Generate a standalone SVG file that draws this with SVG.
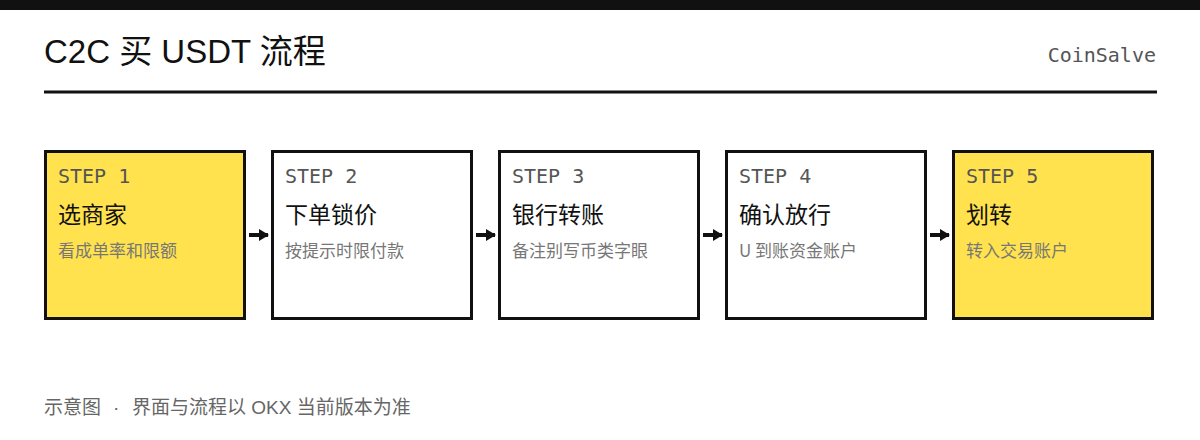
<svg xmlns="http://www.w3.org/2000/svg" width="1200" height="440" viewBox="0 0 1200 440">
<style>
.box{stroke:#111;stroke-width:3}
.y{fill:#FFE24D}
.w{fill:#fff}
.step{font-family:"DejaVu Sans Mono","Liberation Mono",monospace;font-size:20px;fill:#555}
.ttl{font-family:"Noto Sans CJK SC","Noto Sans",sans-serif;font-size:23px;fill:#111}
.sub{font-family:"Noto Sans CJK SC","Noto Sans",sans-serif;font-size:17px;fill:#777}
.conn{stroke:#111;stroke-width:4;fill:none}
</style>
<defs>
<marker id="ah" markerWidth="10" markerHeight="12" refX="9" refY="6" orient="auto" markerUnits="userSpaceOnUse">
<path d="M0,0 L10,6 L0,12 Z" fill="#111"/>
</marker>
</defs>
<rect width="1200" height="440" fill="#fff"/>
<rect x="0" y="0" width="1200" height="10" fill="#111"/>
<text x="44" y="63" font-family="'Liberation Sans','Noto Sans CJK SC',sans-serif" font-size="33" fill="#111">C2C 买 USDT 流程</text>
<text x="1156" y="62" text-anchor="end" font-family="'DejaVu Sans Mono','Liberation Mono',monospace" font-size="20" fill="#555">CoinSalve</text>
<rect x="44" y="90.5" width="1113" height="3" fill="#111"/>

<g id="step1">
<rect class="box y" x="45.5" y="151.5" width="199" height="167"/>
<text class="step" x="58" y="183">STEP 1</text>
<text class="ttl" x="58" y="223">选商家</text>
<text class="sub" x="58" y="257">看成单率和限额</text>
</g>
<g id="step2">
<rect class="box w" x="272.5" y="151.5" width="199" height="167"/>
<text class="step" x="285" y="183">STEP 2</text>
<text class="ttl" x="285" y="223">下单锁价</text>
<text class="sub" x="285" y="257">按提示时限付款</text>
</g>
<g id="step3">
<rect class="box w" x="499.5" y="151.5" width="199" height="167"/>
<text class="step" x="512" y="183">STEP 3</text>
<text class="ttl" x="512" y="223">银行转账</text>
<text class="sub" x="512" y="257">备注别写币类字眼</text>
</g>
<g id="step4">
<rect class="box w" x="726.5" y="151.5" width="199" height="167"/>
<text class="step" x="739" y="183">STEP 4</text>
<text class="ttl" x="739" y="223">确认放行</text>
<text class="sub" x="739" y="257">U 到账资金账户</text>
</g>
<g id="step5">
<rect class="box y" x="953.5" y="151.5" width="199" height="167"/>
<text class="step" x="966" y="183">STEP 5</text>
<text class="ttl" x="966" y="223">划转</text>
<text class="sub" x="966" y="257">转入交易账户</text>
</g>

<g id="connectors">
<line class="conn" x1="249" y1="235" x2="268" y2="235" marker-end="url(#ah)"/>
<line class="conn" x1="476" y1="235" x2="495" y2="235" marker-end="url(#ah)"/>
<line class="conn" x1="703" y1="235" x2="722" y2="235" marker-end="url(#ah)"/>
<line class="conn" x1="930" y1="235" x2="949" y2="235" marker-end="url(#ah)"/>
</g>

<text y="414" font-family="'Liberation Sans','Noto Sans CJK SC',sans-serif" font-size="19" fill="#666"><tspan x="44">示意图</tspan><tspan x="113">·</tspan><tspan x="132">界面与流程以 OKX 当前版本为准</tspan></text>
</svg>
